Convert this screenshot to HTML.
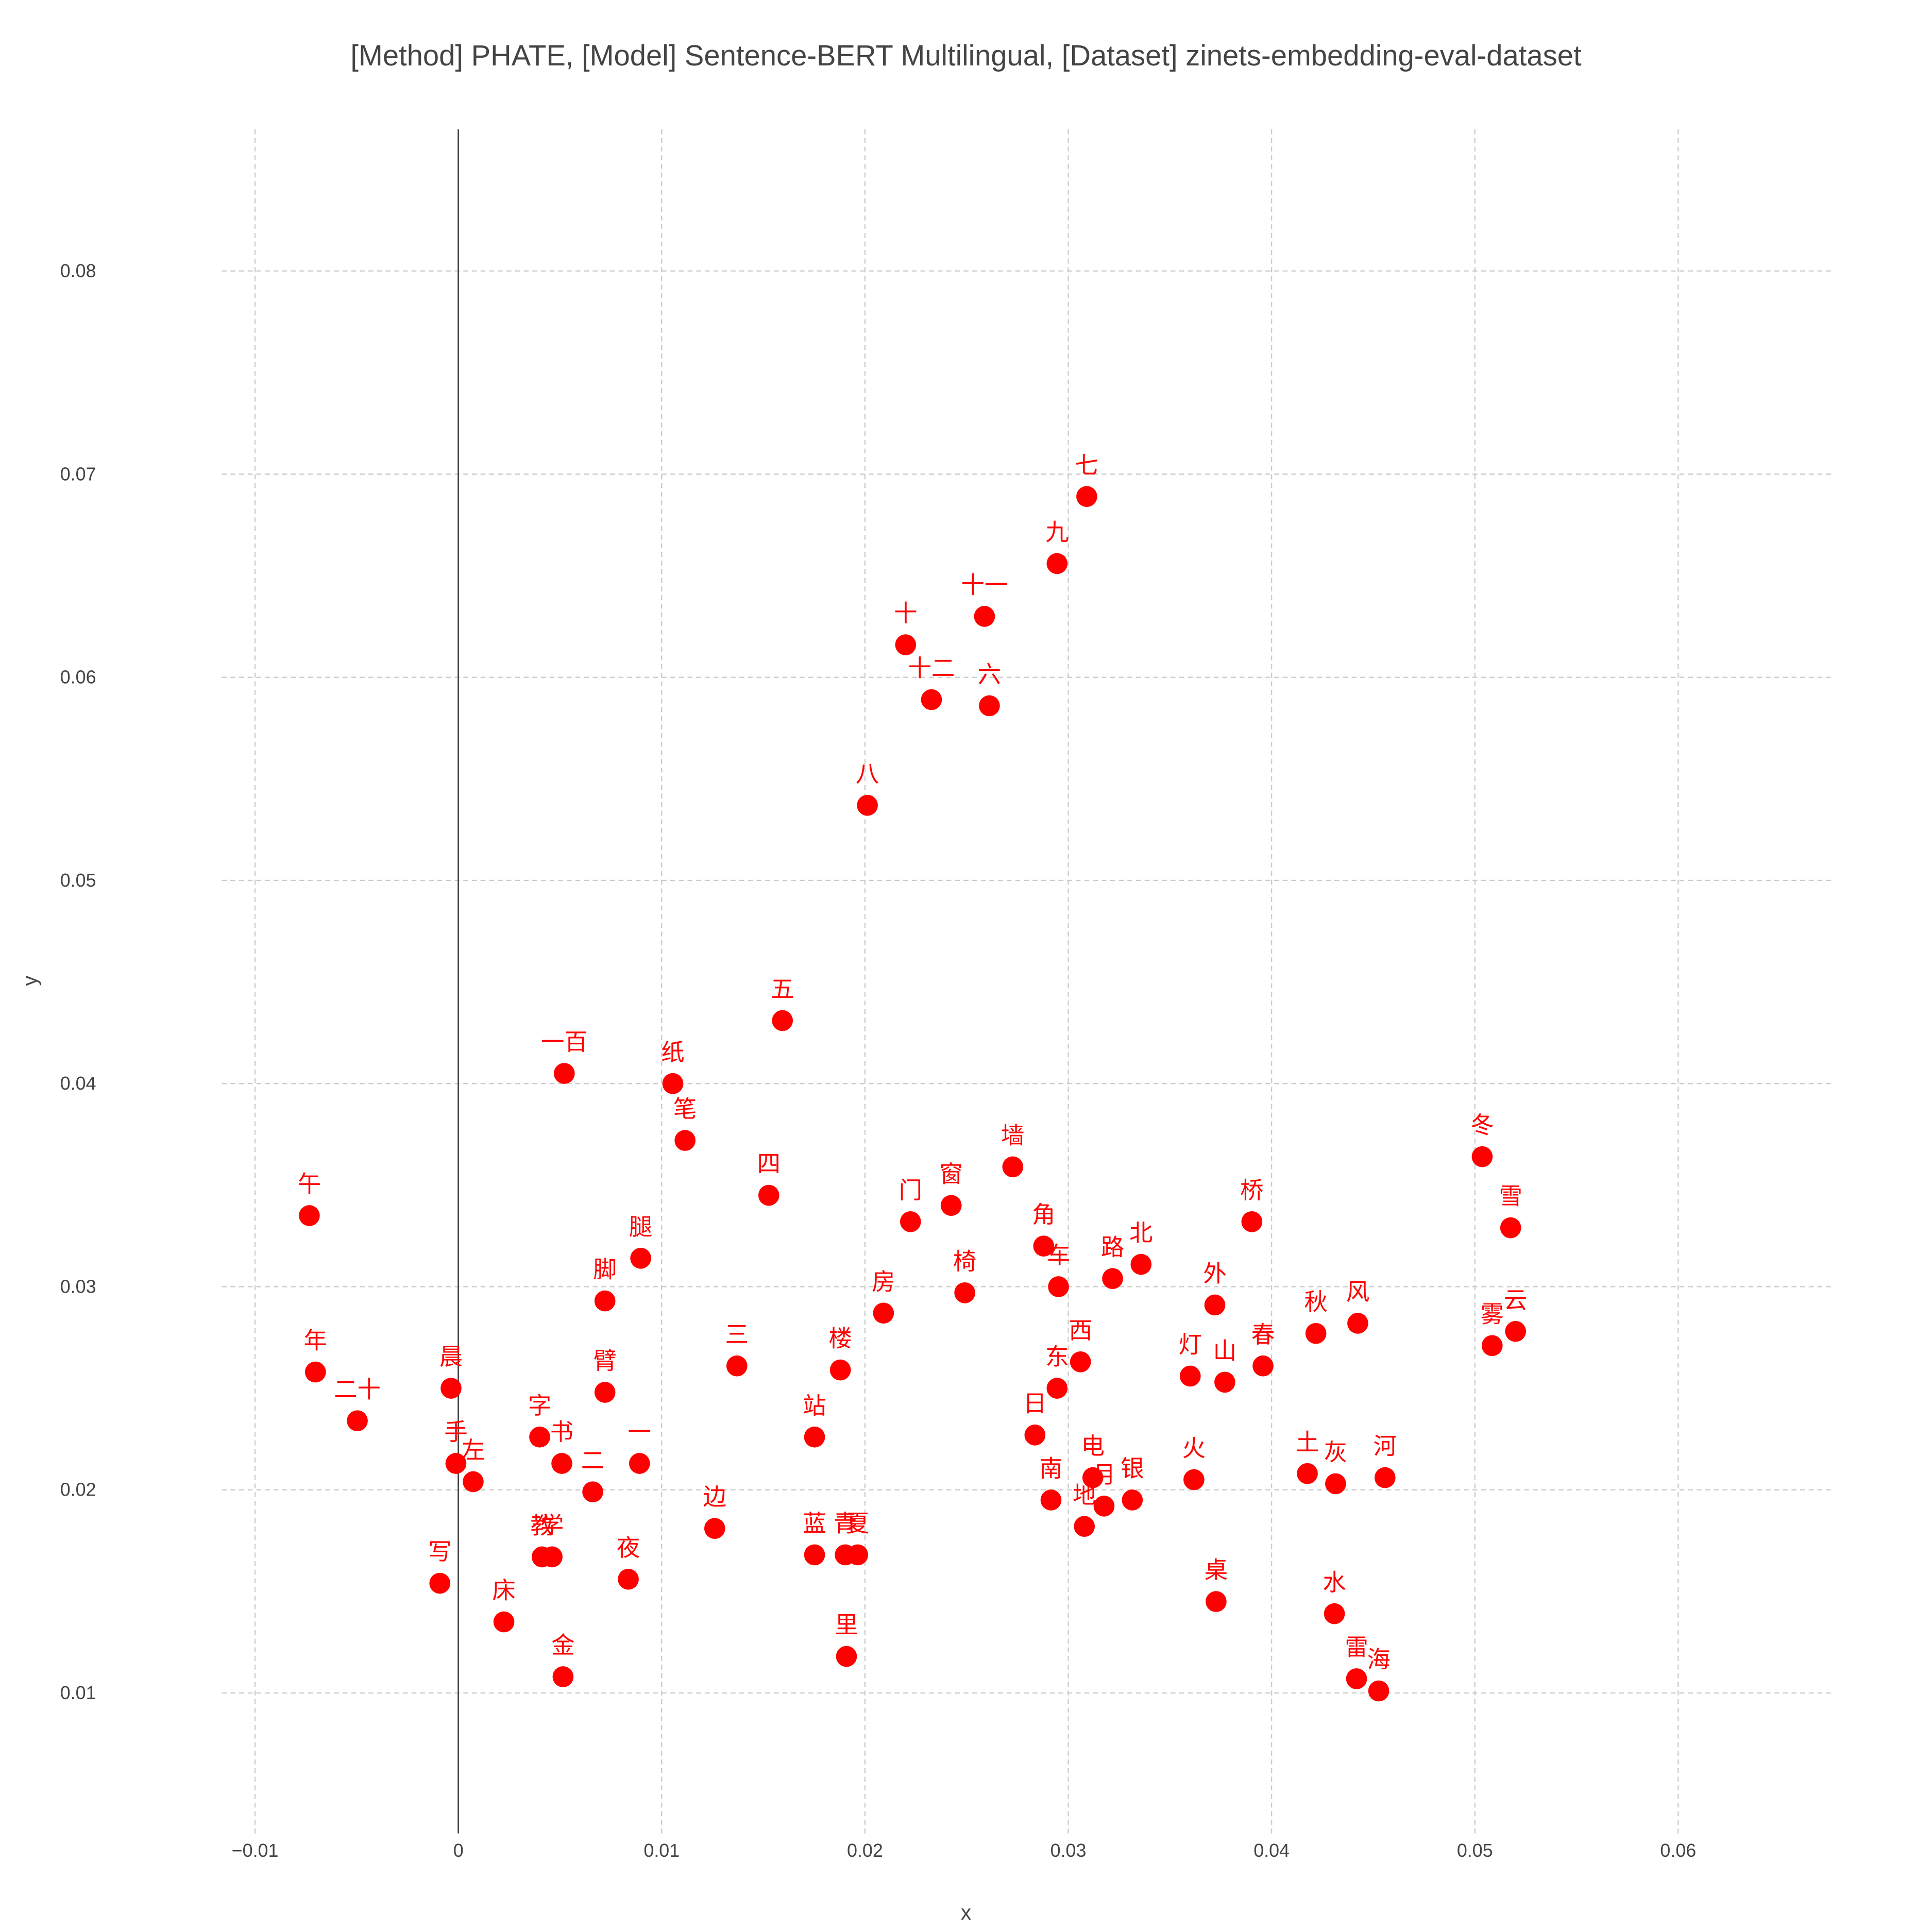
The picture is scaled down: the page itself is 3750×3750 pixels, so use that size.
<!DOCTYPE html>
<html><head><meta charset="utf-8"><style>
html,body{margin:0;padding:0;background:#fff;}
svg{display:block;}
text{font-family:"Liberation Sans","Noto Sans CJK SC",sans-serif;}
</style></head><body>
<svg id="chart" width="3750" height="3750" viewBox="0 0 1568 1568" xmlns="http://www.w3.org/2000/svg">
<rect width="1568" height="1568" fill="#fff"/>
<text x="784" y="53" text-anchor="middle" font-size="23.5" fill="#444">[Method] PHATE, [Model] Sentence-BERT Multilingual, [Dataset] zinets-embedding-eval-dataset</text>
<g id="grid"></g>
<g id="axes"></g>
<g id="points"></g>
<text x="784" y="1558" text-anchor="middle" font-size="17" fill="#444">x</text>
<text x="30" y="796" text-anchor="middle" font-size="17" fill="#444" transform="rotate(-90 30 796)">y</text>
</svg>
<script>
const labels = ["七","九","十一","十","十二","六","八","五","一百","纸","笔","四","午","墙","窗","门","冬","雪","桥","角","北","路","腿","车","椅","外","脚","房","风","云","秋","雾","年","三","楼","西","春","灯","山","东","晨","臂","二十","日","字","站","书","一","手","左","火","土","灰","河","电","南","月","银","二","地","边","蓝","青","夏","教","学","夜","写","桌","水","床","里","雷","金","海"];
const xs = [0.03091,0.02945,0.02588,0.0220,0.02327,0.02612,0.02012,0.01594,0.00521,0.01055,0.01115,0.01527,-0.00733,0.02727,0.02424,0.02224,0.05036,0.05176,0.03903,0.02879,0.03358,0.03218,0.00897,0.02952,0.02491,0.03721,0.00721,0.02091,0.04424,0.0520,0.04218,0.05085,-0.00703,0.0137,0.01879,0.0306,0.03958,0.0360,0.0377,0.02945,-0.00036,0.00721,-0.00497,0.02836,0.0040,0.01752,0.00509,0.00891,-0.00012,0.00073,0.03618,0.04176,0.04315,0.04558,0.03121,0.02915,0.03176,0.03315,0.00661,0.03079,0.01261,0.01752,0.01903,0.01964,0.00412,0.00461,0.00836,-0.00091,0.03727,0.04309,0.00224,0.01909,0.04418,0.00515,0.04527];
const ys = [0.0689,0.0656,0.0630,0.0616,0.0589,0.0586,0.0537,0.0431,0.0405,0.0400,0.0372,0.0345,0.0335,0.0359,0.0340,0.0332,0.0364,0.0329,0.0332,0.0320,0.0311,0.0304,0.0314,0.0300,0.0297,0.0291,0.0293,0.0287,0.0282,0.0278,0.0277,0.0271,0.0258,0.0261,0.0259,0.0263,0.0261,0.0256,0.0253,0.0250,0.0250,0.0248,0.0234,0.0227,0.0226,0.0226,0.0213,0.0213,0.0213,0.0204,0.0205,0.0208,0.0203,0.0206,0.0206,0.0195,0.0192,0.0195,0.0199,0.0182,0.0181,0.0168,0.0168,0.0168,0.0167,0.0167,0.0156,0.0154,0.0145,0.0139,0.0135,0.0118,0.0107,0.0108,0.0101];
const xTicks = [-0.01,0,0.01,0.02,0.03,0.04,0.05,0.06];
const xTickLabels = ["−0.01","0","0.01","0.02","0.03","0.04","0.05","0.06"];
const yTicks = [0.01,0.02,0.03,0.04,0.05,0.06,0.07,0.08];
const yTickLabels = ["0.01","0.02","0.03","0.04","0.05","0.06","0.07","0.08"];

const L=180,R=1487,T=105,B=1488;
function sx(v){return 372+v*16500;}
function sy(v){return 1374-(v-0.01)*16486;}
const NS="http://www.w3.org/2000/svg";
function mk(tag,attrs,parent){const e=document.createElementNS(NS,tag);for(const k in attrs)e.setAttribute(k,attrs[k]);parent.appendChild(e);return e;}
const grid=document.getElementById('grid'),axes=document.getElementById('axes'),pts=document.getElementById('points');
xTicks.forEach((t,i)=>{
  const x=sx(t);
  if(t!==0){const g=mk('line',{x1:x,x2:x,y1:T,y2:B,stroke:'#ccc','stroke-width':1,'stroke-dasharray':'4,3'},grid);
  
  }
  const tx=mk('text',{x:x,y:1507,'text-anchor':'middle','font-size':15,fill:'#444'},axes);
  tx.textContent=xTickLabels[i];
  
  
});
yTicks.forEach((t,i)=>{
  const y=sy(t);
  const g=mk('line',{x1:L,x2:R,y1:y,y2:y,stroke:'#ccc','stroke-width':1,'stroke-dasharray':'4,3'},grid);
  
  
  const tx=mk('text',{x:78,y:y+5,'text-anchor':'end','font-size':15,fill:'#444'},axes);
  tx.textContent=yTickLabels[i];
  
  
});
const z=mk('line',{x1:sx(0),x2:sx(0),y1:T,y2:B,stroke:'#444','stroke-width':1.2},axes);


labels.forEach((lb,i)=>{
  const cx=sx(xs[i]),cy=sy(ys[i]);
  const c=mk('circle',{cx:cx,cy:cy,r:8.5,fill:'#ff0000'},pts);
  
  
  const t=mk('text',{x:cx,y:cy-19,'text-anchor':'middle','font-size':19,fill:'#ff0000'},pts);
  t.textContent=lb;
  
  
});
</script>
</body></html>
